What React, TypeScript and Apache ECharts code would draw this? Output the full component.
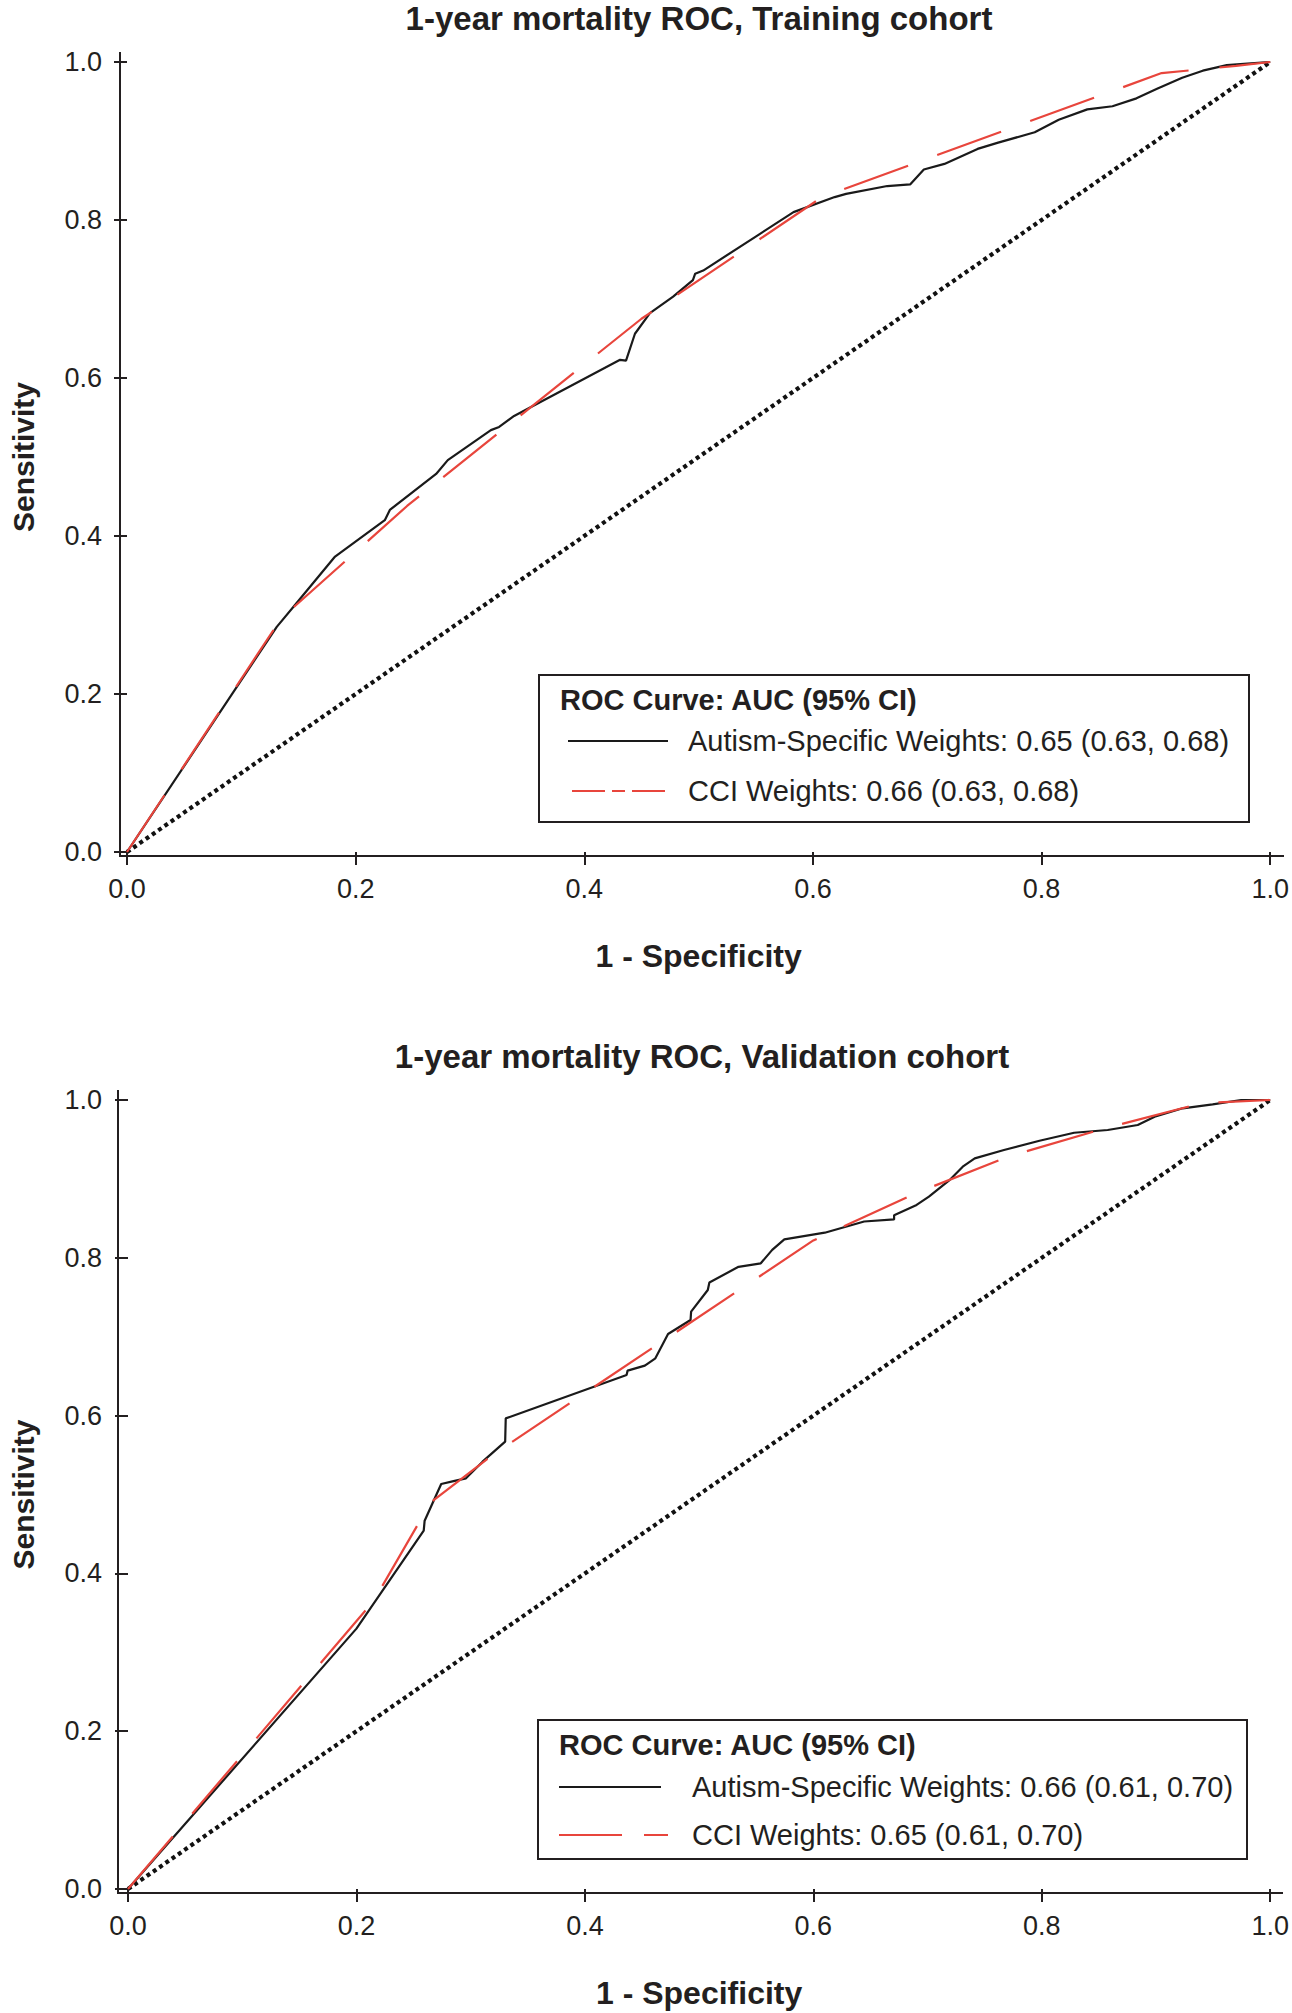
import { useEffect, useRef } from "react";
import * as echarts from "echarts";

// ---- data ----
const tickLabels = ["0.0", "0.2", "0.4", "0.6", "0.8", "1.0"];

const titleTrain = "1-year mortality ROC, Training cohort";
const titleValid = "1-year mortality ROC, Validation cohort";
const legendTitle = "ROC Curve: AUC (95% CI)";

const trainAutismName = "Autism-Specific Weights: 0.65 (0.63, 0.68)";
const trainCciName = "CCI Weights: 0.66 (0.63, 0.68)";
const validAutismName = "Autism-Specific Weights: 0.66 (0.61, 0.70)";
const validCciName = "CCI Weights: 0.65 (0.61, 0.70)";

const diagonal = [[0, 0], [1, 1]];

const trainAutism = [
  [0, 0], [0.131, 0.285], [0.15, 0.318], [0.182, 0.374], [0.2255, 0.42], [0.2299, 0.433],
  [0.2704, 0.4785], [0.2806, 0.496], [0.3183, 0.534], [0.3255, 0.538], [0.3386, 0.552],
  [0.4313, 0.623], [0.4365, 0.622], [0.4443, 0.656], [0.4574, 0.682], [0.4777, 0.703],
  [0.495, 0.724], [0.497, 0.732], [0.504, 0.736], [0.551, 0.78], [0.583, 0.81],
  [0.619, 0.829], [0.629, 0.833], [0.665, 0.843], [0.685, 0.845], [0.697, 0.864],
  [0.715, 0.871], [0.744, 0.89], [0.762, 0.898], [0.794, 0.911], [0.815, 0.927],
  [0.84, 0.94], [0.862, 0.944], [0.883, 0.954], [0.901, 0.966], [0.923, 0.98],
  [0.941, 0.989], [0.962, 0.996], [0.98, 0.998], [1, 1],
];

const trainCci = [
  [0, 0], [0.135, 0.296], [0.245, 0.438], [0.45, 0.675], [0.608, 0.829],
  [0.905, 0.986], [0.97, 0.995], [1, 1],
];

const validAutism = [
  [0, 0], [0.2, 0.33], [0.2589, 0.4542], [0.2597, 0.4668], [0.2742, 0.5133], [0.285, 0.517],
  [0.2959, 0.5205], [0.3104, 0.5416], [0.3302, 0.567], [0.3307, 0.5965], [0.4365, 0.6515],
  [0.4374, 0.657], [0.4525, 0.6633], [0.4617, 0.6726], [0.4728, 0.7034], [0.4925, 0.7211],
  [0.493, 0.7317], [0.5076, 0.7592], [0.509, 0.7688], [0.5345, 0.7886], [0.554, 0.793],
  [0.564, 0.81], [0.5746, 0.8234], [0.61, 0.8318], [0.6445, 0.846], [0.6707, 0.8487],
  [0.6707, 0.854], [0.6904, 0.867], [0.7012, 0.8775], [0.72, 0.8995], [0.7308, 0.9155],
  [0.7413, 0.926], [0.7669, 0.9366], [0.798, 0.9484], [0.8283, 0.9585], [0.8577, 0.962],
  [0.884, 0.9683], [0.8988, 0.9789], [0.9234, 0.9895], [0.9496, 0.9944], [0.975, 1.0], [1, 1],
];

const validCci = [
  [0, 0], [0.215, 0.365], [0.265, 0.49], [0.32, 0.551], [0.6, 0.822], [0.69, 0.882],
  [0.77, 0.928], [0.85, 0.962], [0.94, 0.996], [1, 1],
];

// ---- style ----
const FONT = '"Liberation Sans", Arial, Helvetica, sans-serif';
const INK = "#231f20";
const BLACK = "#1a1a1a";
const RED = "#e8453c";

const grids = [
  { left: 124, top: 62, width: 1150, height: 790 },
  { left: 123, top: 1100, width: 1150, height: 789 },
];

const App = () => {
  const chartRef = useRef<HTMLDivElement>(null);

  useEffect(() => {
    document.body.style.margin = "0";
    const chart = echarts.init(chartRef.current!, null, { renderer: "svg" });

    const axisOffset = 4;
    const xAxes = grids.map((_, i) => ({
      type: "value",
      gridIndex: i,
      min: 0,
      max: 1,
      interval: 0.2,
      offset: axisOffset,
      axisLine: { show: false },
      axisTick: { length: 13, lineStyle: { color: INK, width: 2 } },
      axisLabel: {
        margin: 19,
        fontSize: 27,
        color: INK,
        fontFamily: FONT,
        formatter: (v: number) => tickLabels[Math.round(v / 0.2)],
      },
      splitLine: { show: false },
      name: "1 - Specificity",
      nameLocation: "middle",
      nameGap: 84,
      nameTextStyle: { fontSize: 32, fontWeight: "bold", color: INK, fontFamily: FONT },
    }));

    const yAxes = grids.map((_, i) => ({
      type: "value",
      gridIndex: i,
      min: 0,
      max: 1,
      interval: 0.2,
      offset: i === 0 ? 4 : 5,
      axisLine: { show: false },
      axisTick: { length: 13, lineStyle: { color: INK, width: 2 } },
      axisLabel: {
        margin: 21,
        fontSize: 27,
        color: INK,
        fontFamily: FONT,
        formatter: (v: number) => tickLabels[Math.round(v / 0.2)],
      },
      splitLine: { show: false },
      name: "Sensitivity",
      nameLocation: "middle",
      nameGap: 85,
      nameRotate: 90,
      nameTextStyle: { fontSize: 30, fontWeight: "bold", color: INK, fontFamily: FONT },
    }));

    const curve = (i: number, name: string, data: number[][], color: string, dash?: number[]) => ({
      type: "line",
      name,
      xAxisIndex: i,
      yAxisIndex: i,
      data,
      symbol: "none",
      showSymbol: false,
      lineStyle: { color, width: 2.2, type: dash ?? "solid" },
      z: dash ? 4 : 3,
    });

    const diagSeries = (i: number) => ({
      type: "line",
      xAxisIndex: i,
      yAxisIndex: i,
      data: diagonal,
      symbol: "none",
      showSymbol: false,
      lineStyle: { color: "#111", width: 4.2, type: [4, 3.6] },
      z: 2,
    });

    // axis frame lines (R style: slightly detached and extended)
    const frame = grids.map((g, i) => {
      const yOff = i === 0 ? 4 : 5;
      const ax = g.left - yOff;
      const ay = g.top + g.height + axisOffset;
      return {
        type: "polyline",
        shape: { points: [[ax, g.top - 10], [ax, ay], [g.left + g.width + 10, ay]] },
        style: { stroke: INK, lineWidth: 2, fill: null },
        z: 10,
      };
    });

    const legendBox = (
      box: { x: number; y: number; w: number; h: number },
      titleY: number,
      rows: { y: number; x1: number; x2: number; textX: number; text: string; color: string; dash?: number[] }[],
      titleX: number,
    ) => [
      {
        type: "rect",
        shape: { x: box.x, y: box.y, width: box.w, height: box.h },
        style: { fill: "#fff", stroke: INK, lineWidth: 2 },
        z: 20,
      },
      {
        type: "text",
        x: titleX,
        y: titleY,
        style: {
          text: legendTitle,
          font: `bold 29px ${FONT}`,
          fill: INK,
          verticalAlign: "middle",
          align: "left",
        },
        z: 21,
      },
      ...rows.flatMap((r) => [
        {
          type: "line",
          shape: { x1: r.x1, y1: r.y, x2: r.x2, y2: r.y },
          style: { stroke: r.color, lineWidth: 2, lineDash: r.dash ?? null },
          z: 21,
        },
        {
          type: "text",
          x: r.textX,
          y: r.y,
          style: {
            text: r.text,
            font: `29px ${FONT}`,
            fill: INK,
            verticalAlign: "middle",
            align: "left",
          },
          z: 21,
        },
      ]),
    ];

    const graphic = [
      ...frame,
      ...legendBox({ x: 539, y: 675, w: 710, h: 147 }, 700, [
        { y: 741, x1: 568, x2: 668, textX: 688, text: trainAutismName, color: BLACK },
        { y: 791, x1: 572, x2: 665, textX: 688, text: trainCciName, color: RED, dash: [33, 7, 13, 7] },
      ], 560),
      ...legendBox({ x: 538, y: 1720, w: 709, h: 139 }, 1745, [
        { y: 1787, x1: 559, x2: 661, textX: 692, text: validAutismName, color: BLACK },
        { y: 1835, x1: 559, x2: 668, textX: 692, text: validCciName, color: RED, dash: [63, 22] },
      ], 559),
    ];

    chart.setOption({
      animation: false,
      backgroundColor: "#ffffff",
      textStyle: { fontFamily: FONT },
      title: [
        {
          text: titleTrain,
          left: 699,
          top: 2,
          textAlign: "center",
          padding: 0,
          textStyle: { fontSize: 33, fontWeight: "bold", color: INK, fontFamily: FONT },
        },
        {
          text: titleValid,
          left: 702,
          top: 1040,
          textAlign: "center",
          padding: 0,
          textStyle: { fontSize: 33, fontWeight: "bold", color: INK, fontFamily: FONT },
        },
      ],
      grid: grids,
      xAxis: xAxes,
      yAxis: yAxes,
      series: [
        diagSeries(0),
        curve(0, trainAutismName, trainAutism, BLACK),
        curve(0, trainCciName, trainCci, RED, [68, 31]),
        diagSeries(1),
        curve(1, validAutismName, validAutism, BLACK),
        curve(1, validCciName, validCci, RED, [69, 30]),
      ],
      graphic,
    });

    return () => {
      chart.dispose();
    };
  }, []);

  return <div ref={chartRef} style={{ width: 1292, height: 2013 }} />;
};

export default App;
